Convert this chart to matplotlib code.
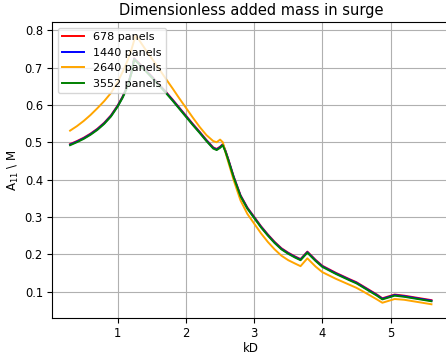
import matplotlib
matplotlib.use("Agg")
import matplotlib.pyplot as plt

# Wave number times draft
kD = [0.30, 0.40, 0.50, 0.60, 0.70, 0.80, 0.90, 1.00, 1.07, 1.10, 1.15, 1.20,
      1.24, 1.26, 1.30, 1.40, 1.50, 1.60, 1.70, 1.80, 1.90, 2.00, 2.10, 2.20,
      2.30, 2.40, 2.45, 2.50, 2.54, 2.58, 2.62, 2.70, 2.80, 2.90, 3.00, 3.10,
      3.20, 3.30, 3.40, 3.50, 3.60, 3.68, 3.78, 3.90, 4.00, 4.20, 4.40, 4.50,
      4.60, 4.80, 4.88, 5.06, 5.20, 5.40, 5.60]

# Added mass A11 / M for each mesh resolution
a11_678 = [0.495, 0.503, 0.512, 0.523, 0.536, 0.552, 0.572, 0.599, 0.622, 0.634,
           0.656, 0.688, 0.725, 0.721, 0.714, 0.695, 0.676, 0.656, 0.636, 0.615,
           0.593, 0.571, 0.549, 0.528, 0.506, 0.486, 0.482, 0.488, 0.495, 0.477,
           0.455, 0.408, 0.358, 0.325, 0.300, 0.275, 0.253, 0.233, 0.216, 0.204,
           0.194, 0.187, 0.207, 0.185, 0.169, 0.150, 0.133, 0.125, 0.114, 0.092,
           0.082, 0.092, 0.089, 0.083, 0.077]

a11_1440 = [0.4935, 0.5015, 0.5105, 0.5215, 0.5345, 0.5505, 0.5705, 0.5975, 0.6205,
            0.6325, 0.6545, 0.6865, 0.7235, 0.7195, 0.7125, 0.6935, 0.6745, 0.6545,
            0.6345, 0.6135, 0.5915, 0.5695, 0.5475, 0.5265, 0.5045, 0.4845, 0.4805,
            0.4865, 0.4935, 0.4755, 0.4535, 0.4065, 0.3565, 0.3235, 0.2985, 0.2735,
            0.2515, 0.2315, 0.2145, 0.2025, 0.1925, 0.1855, 0.2055, 0.1835, 0.1675,
            0.1485, 0.1315, 0.1235, 0.1125, 0.0905, 0.0805, 0.0905, 0.0875, 0.0815,
            0.0755]

a11_2640 = [0.531, 0.543, 0.557, 0.573, 0.591, 0.610, 0.632, 0.662, 0.688, 0.700,
            0.722, 0.748, 0.773, 0.786, 0.777, 0.750, 0.724, 0.698, 0.671, 0.645,
            0.618, 0.592, 0.566, 0.541, 0.519, 0.503, 0.500, 0.507, 0.500, 0.472,
            0.447, 0.398, 0.344, 0.308, 0.282, 0.256, 0.233, 0.213, 0.196, 0.184,
            0.175, 0.168, 0.189, 0.167, 0.152, 0.134, 0.118, 0.110, 0.100, 0.079,
            0.070, 0.080, 0.078, 0.072, 0.066]

a11_3552 = [0.492, 0.500, 0.509, 0.520, 0.533, 0.549, 0.569, 0.596, 0.619, 0.631,
            0.653, 0.685, 0.722, 0.718, 0.711, 0.692, 0.673, 0.653, 0.633, 0.612,
            0.590, 0.568, 0.546, 0.525, 0.503, 0.483, 0.479, 0.485, 0.492, 0.474,
            0.452, 0.405, 0.355, 0.322, 0.297, 0.272, 0.250, 0.230, 0.213, 0.201,
            0.191, 0.184, 0.204, 0.182, 0.166, 0.147, 0.130, 0.122, 0.111, 0.089,
            0.079, 0.089, 0.086, 0.080, 0.074]

series = [
    ("678 panels", a11_678, "red"),
    ("1440 panels", a11_1440, "blue"),
    ("2640 panels", a11_2640, "orange"),
    ("3552 panels", a11_3552, "green"),
]

plt.rcParams.update({
    "font.size": 8.5,
    "axes.titlesize": 10.5,
    "axes.labelsize": 8.5,
    "xtick.labelsize": 8.3,
    "ytick.labelsize": 8.3,
    "legend.fontsize": 8.0,
    "xtick.major.pad": 3.0,
    "ytick.major.pad": 3.0,
})

fig = plt.figure(figsize=(4.46, 3.56), dpi=100)
ax = fig.add_axes([0.1166, 0.1076, 0.8913, 0.8306])

for label, vals, color in series:
    ax.plot(kD, vals, color=color, label=label, linewidth=1.4)

ax.set_title("Dimensionless added mass in surge", pad=5)
ax.set_xlabel("kD", labelpad=2)
ax.set_ylabel(r"A$_{11}$ \ M", labelpad=3)
ax.grid(True)
ax.legend(loc="upper left")

fig.savefig("out.png", dpi=100)
